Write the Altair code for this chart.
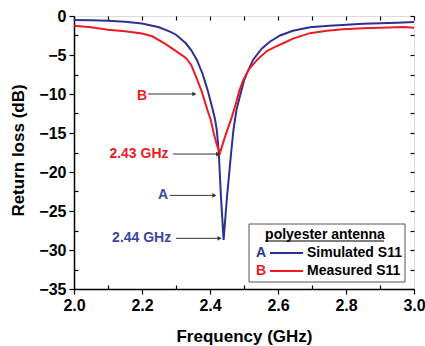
import altair as alt
import pandas as pd

# ---- data ----
freq_sim = [2.00, 2.05, 2.10, 2.15, 2.20, 2.25, 2.282, 2.30, 2.329, 2.345, 2.361, 2.378,
            2.393, 2.408, 2.415, 2.42, 2.426, 2.432, 2.44, 2.45, 2.462, 2.469, 2.478,
            2.492, 2.50, 2.51, 2.527, 2.552, 2.576, 2.606, 2.644, 2.694, 2.75, 2.79,
            2.85, 2.90, 2.95, 3.00]
s11_sim = [-0.50, -0.55, -0.62, -0.75, -0.95, -1.45, -2.0, -2.4, -3.5, -4.4, -5.6, -7.4,
           -9.5, -12.0, -13.3, -14.6, -17.6, -23.0, -28.7, -23.2, -17.6, -14.6, -12.0,
           -9.6, -8.3, -7.2, -5.6, -4.2, -3.3, -2.5, -1.9, -1.45, -1.25, -1.15,
           -1.0, -0.93, -0.85, -0.77]

freq_meas = [2.00, 2.05, 2.10, 2.15, 2.20, 2.23, 2.27, 2.30, 2.33, 2.345, 2.36, 2.375,
             2.392, 2.402, 2.413, 2.42, 2.429, 2.444, 2.464, 2.475, 2.486, 2.498, 2.515,
             2.539, 2.567, 2.59, 2.62, 2.644, 2.694, 2.744, 2.79, 2.85, 2.90, 2.97, 3.00]
s11_meas = [-1.25, -1.45, -1.75, -1.95, -2.25, -2.6, -3.6, -4.5, -5.4, -6.3, -7.9, -9.6,
            -12.0, -13.3, -15.4, -16.5, -17.6, -15.5, -13.0, -11.4, -9.6, -8.2, -6.8,
            -5.6, -4.5, -4.0, -3.4, -2.9, -2.2, -1.9, -1.7, -1.58, -1.5, -1.4, -1.5]

series_names = ["Simulated S11", "Measured S11"]
series_letters = ["A", "B"]
series_colors = ["#2e3192", "#ed1c24"]

x_major = [2.0, 2.2, 2.4, 2.6, 2.8, 3.0]
x_minor = [2.1, 2.3, 2.5, 2.7, 2.9]
y_major = [0, -5, -10, -15, -20, -25, -30, -35]
y_minor = [-2.5, -7.5, -12.5, -17.5, -22.5, -27.5, -32.5]

ann_text = ["B", "2.43 GHz", "A", "2.44 GHz"]
ann_x = [2.20, 2.191, 2.262, 2.199]
ann_y = [-10.2, -17.7, -23.0, -28.5]
ann_color = ["#ed1c24", "#ed1c24", "#3b47a0", "#3b47a0"]
arrow_x1 = [2.218, 2.291, 2.282, 2.300]
arrow_x2 = [2.354, 2.424, 2.413, 2.428]
arrow_y = [-10.0, -17.7, -23.0, -28.5]

legend_title = "polyester antenna"

# ---- tables ----
df = pd.concat([
    pd.DataFrame({"freq": freq_sim, "s11": s11_sim, "series": series_names[0]}),
    pd.DataFrame({"freq": freq_meas, "s11": s11_meas, "series": series_names[1]}),
])
ann = pd.DataFrame({"text": ann_text, "x": ann_x, "y": ann_y, "color": ann_color,
                    "x1": arrow_x1, "x2": arrow_x2, "ay": arrow_y})

FONT = "Liberation Sans"
W, H = 340, 273
xs = alt.Scale(domain=[2.0, 3.0], nice=False, zero=False)
ys = alt.Scale(domain=[-35, 0], nice=False, zero=False)

main_x_axis = alt.Axis(values=x_major, format=".1f", tickSize=5, tickWidth=1.2,
                       tickColor="black", domainColor="black", domainWidth=1.5,
                       labelFont=FONT, labelFontSize=16, labelFontWeight="bold",
                       labelColor="black", labelPadding=3, labelFlush=False,
                       labelOverlap=False, grid=False,
                       title="Frequency (GHz)", titleFont=FONT, titleFontSize=17,
                       titleFontWeight="bold", titleColor="black",
                       titleY=47, titleBaseline="middle")
main_y_axis = alt.Axis(values=y_major, format="d", tickSize=5, tickWidth=1.2,
                       tickColor="black", domainColor="black", domainWidth=1.5,
                       labelFont=FONT, labelFontSize=16, labelFontWeight="bold",
                       labelColor="black", labelPadding=3, labelFlush=False,
                       labelOverlap=False, grid=False,
                       title="Return loss (dB)", titleFont=FONT, titleFontSize=17,
                       titleFontWeight="bold", titleColor="black",
                       titleX=-56, titleY=134, titleAngle=270,
                       titleBaseline="middle", titleAlign="center")

lines = alt.Chart(df).mark_line(strokeWidth=2).encode(
    x=alt.X("freq:Q", scale=xs, axis=main_x_axis),
    y=alt.Y("s11:Q", scale=ys, axis=main_y_axis),
    color=alt.Color("series:N", scale=alt.Scale(domain=series_names, range=series_colors),
                    legend=None),
)


def inner_axis(orient, values, size):
    return alt.Axis(orient=orient, values=values, labels=False, domain=False,
                    tickSize=size, offset=-size, tickColor="black", tickWidth=1.2,
                    title=None, grid=False)


x_top_vals = [round(2.0 + 0.1 * i, 1) for i in range(11)]
y_right_vals = [-2.5 * i for i in range(15)]

ticks_top_right = alt.Chart(df).mark_line(opacity=0).encode(
    x=alt.X("freq:Q", scale=xs, axis=inner_axis("top", x_top_vals, 4)),
    y=alt.Y("s11:Q", scale=ys, axis=inner_axis("right", y_right_vals, 4)),
)
ticks_minor = alt.Chart(df).mark_line(opacity=0).encode(
    x=alt.X("freq:Q", scale=xs, axis=inner_axis("bottom", x_minor, 4)),
    y=alt.Y("s11:Q", scale=ys, axis=inner_axis("left", y_minor, 4)),
)

ann_base = alt.Chart(ann)
ann_text_layer = ann_base.mark_text(font=FONT, fontSize=14, fontWeight="bold",
                                    align="center", baseline="middle").encode(
    x=alt.X("x:Q", scale=xs, axis=None),
    y=alt.Y("y:Q", scale=ys, axis=None),
    text="text:N",
    color=alt.Color("color:N", scale=None),
)
ann_rule = ann_base.mark_rule(color="#333333", strokeWidth=1).encode(
    x=alt.X("x1:Q", scale=xs, axis=None),
    x2="x2:Q",
    y=alt.Y("ay:Q", scale=ys, axis=None),
)
ann_head = ann_base.mark_point(shape="triangle-right", filled=True, color="#333333",
                               size=22, opacity=1).encode(
    x=alt.X("x2:Q", scale=xs, axis=None),
    y=alt.Y("ay:Q", scale=ys, axis=None),
)

one = pd.DataFrame({"k": [0]})
leg_box = alt.Chart(one).mark_rect(fill="white", stroke="#555555", strokeWidth=1).encode(
    x=alt.value(175), x2=alt.value(331), y=alt.value(208), y2=alt.value(266))
leg_title = alt.Chart(one).mark_text(text=legend_title, font=FONT, fontSize=14,
                                     fontWeight="bold", align="center",
                                     baseline="middle", color="black").encode(
    x=alt.value(251), y=alt.value(219))
leg_underline = alt.Chart(one).mark_rule(color="black", strokeWidth=1).encode(
    x=alt.value(191), x2=alt.value(310), y=alt.value(225))

leg_layers = [leg_box, leg_title, leg_underline]
for i, (name, letter, col) in enumerate(zip(series_names, series_letters, series_colors)):
    yy = 237 + 18 * i
    leg_layers.append(alt.Chart(one).mark_text(text=letter, font=FONT, fontSize=14,
                                               fontWeight="bold", align="center",
                                               baseline="middle", color=col).encode(
        x=alt.value(187), y=alt.value(yy)))
    leg_layers.append(alt.Chart(one).mark_rule(color=col, strokeWidth=2).encode(
        x=alt.value(196), x2=alt.value(229), y=alt.value(yy)))
    leg_layers.append(alt.Chart(one).mark_text(text=name, font=FONT, fontSize=14,
                                               fontWeight="bold", align="left",
                                               baseline="middle", color="black").encode(
        x=alt.value(233), y=alt.value(yy)))

chart = alt.layer(
    lines, ticks_top_right, ticks_minor, ann_rule, ann_head, ann_text_layer, *leg_layers
).resolve_scale(x="independent", y="independent").properties(
    width=W, height=H,
    autosize=alt.AutoSizeParams(type="none"),
    padding={"left": 74, "top": 16, "right": 11, "bottom": 57},
).configure_view(stroke="black", strokeWidth=1.5).configure(background="white")

chart.save("out.html", embed_options={"renderer": "svg", "actions": False})
